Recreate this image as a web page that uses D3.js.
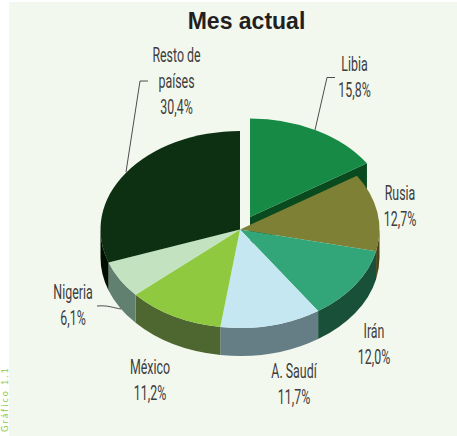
<!DOCTYPE html>
<html><head><meta charset="utf-8">
<script src="https://cdn.jsdelivr.net/npm/d3@7/dist/d3.min.js"></script>
<style>html,body{margin:0;padding:0;background:#fff;overflow:hidden}svg{display:block}</style>
</head><body><div id="chart"></div>
<script>
const categories = ["Libia","Rusia","Irán","A. Saudí","México","Nigeria","Resto de países"];
const shares = [15.8,12.7,12.0,11.7,11.2,6.1,30.4];
const shareLabels = ["15,8%","12,7%","12,0%","11,7%","11,2%","6,1%","30,4%"];
const topColors = ["#178a45","#7e8035","#32a678","#c4e7f1","#8fc940","#c3e2c0","#0c3011"];
const wallColors = ["#0a4a1f","#4a4416","#185039","#657d85","#4e662f","#628070","#000f00"];
const labelLines = [["Libia"],["Rusia"],["Irán"],["A. Saudí"],["México"],["Nigeria"],["Resto de","países"]];
const labelAnchors = [[354.5,71],[400,200],[374,338],[294,378],[150,374],[73,299],[176.5,62]];
const W=457,H=436,cx=240,cy=229.5,rx=139.5,ry=98.5,depth=28,lineGap=26;
const explode=[10,-12.5];

const svg=d3.select("#chart").append("svg").attr("width",W).attr("height",H);
svg.append("rect").attr("x",9).attr("y",2).attr("width",W-9).attr("height",H-2).attr("fill","#f3f8ef");
svg.append("text").attr("transform",`translate(7.5,432) rotate(-90)`).attr("font-family","Lato").attr("font-size",9)
  .attr("letter-spacing",2).attr("fill","#8fc940").text("Gráfico 1.1");

const pie=d3.pie().sort(null).value(d=>d)(shares);
const arc=d3.arc().innerRadius(0).outerRadius(rx);
const pt=(a,dx=0,dy=0)=>[cx+dx+rx*Math.sin(a),cy+dy-ry*Math.cos(a)];
const H90=Math.PI/2,H270=3*Math.PI/2;
function wall(a0,a1){
  const s=Math.max(a0,H90),e=Math.min(a1,H270);
  if(e<=s) return null;
  const p0=pt(s),p1=pt(e);
  return `M${p0}A${rx},${ry} 0 0 1 ${p1}L${p1[0]},${p1[1]+depth}A${rx},${ry} 0 0 0 ${p0[0]},${p0[1]+depth}Z`;
}
const g=svg.append("g");
const e=pie[0], end=pt(e.endAngle,...explode), apex=[cx+explode[0],cy+explode[1]];
g.append("path").attr("d",`M${apex}L${end}L${end[0]},${end[1]+depth}L${apex[0]},${apex[1]+depth}Z`).attr("fill",wallColors[0]);
g.append("path").attr("d",arc(e)).attr("transform",`translate(${apex}) scale(1,${ry/rx})`).attr("fill",topColors[0]);
pie.forEach((d,i)=>{ if(i===0) return; const w=wall(d.startAngle,d.endAngle);
  if(w) g.append("path").attr("d",w).attr("fill",wallColors[i]);});
pie.forEach((d,i)=>{ if(i===0) return;
  g.append("path").attr("d",arc(d)).attr("transform",`translate(${cx},${cy}) scale(1,${ry/rx})`).attr("fill",topColors[i]);});

const leaders=["M126,172L140,81H148","M315,130L327,77.5H335","M97,306C108,305 114,308 121,309"];
svg.selectAll("path.l").data(leaders).join("path").attr("class","l").attr("d",d=>d).attr("fill","none").attr("stroke","#3a3a3a").attr("stroke-width",0.9);

const hs=0.62;
categories.forEach((c,i)=>{
  const [x,y]=labelAnchors[i];
  const t=svg.append("g").attr("transform",`translate(${x},${y}) scale(${hs},1)`);
  labelLines[i].concat(shareLabels[i]).forEach((s,k)=>{
    t.append("text").attr("y",k*lineGap).attr("text-anchor","middle").attr("font-family","Roboto")
     .attr("font-weight",400).attr("font-size",20).attr("fill","#3d3d3d").text(s);
  });
});
svg.append("text").attr("x",246.5).attr("y",29).attr("text-anchor","middle").attr("font-family","'Liberation Sans'")
  .attr("font-weight","bold").attr("font-size",23).attr("fill","#231f20").text("Mes actual");
</script></body></html>
